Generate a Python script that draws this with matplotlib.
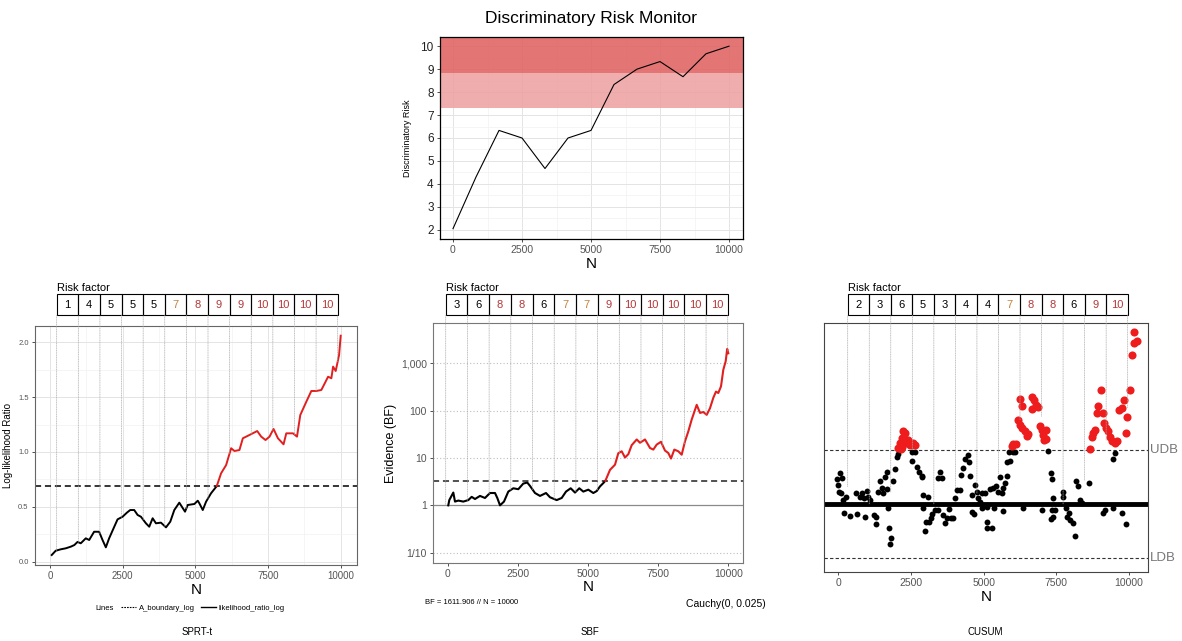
import numpy as np
import matplotlib.pyplot as plt
from matplotlib.patches import Rectangle, ConnectionPatch
from matplotlib.lines import Line2D
from matplotlib.transforms import blended_transform_factory

plt.rcParams['font.family'] = ['Liberation Sans', 'DejaVu Sans']

W, H = 1182, 641

# --- discriminatory risk monitor (top) ---
monitor_n = [0, 833, 1667, 2500, 3333, 4167, 5000, 5833, 6667, 7500, 8333, 9167, 10000]
monitor_risk = [2.05, 4.3, 6.33, 6.0, 4.67, 6.0, 6.33, 8.33, 9.0, 9.33, 8.67, 9.67, 10.0]
band_high = (8.85, 10.4)
band_mid = (7.3, 8.85)

# --- SPRT-t ---
sprt_n = [59, 196, 369, 541, 714, 838, 945, 1059, 1231, 1348, 1517, 1690, 1807, 1921,
          2034, 2186, 2324, 2497, 2645, 2759, 2897, 3014, 3128, 3300, 3414, 3531, 3645,
          3817, 3990, 4138, 4276, 4448, 4645, 4738, 4966, 5083, 5138, 5255, 5369, 5541,
          5738, 5886, 6059, 6231, 6345, 6517, 6634, 6862, 7128, 7266, 7414, 7552, 7690,
          7841, 8034, 8128, 8359, 8497, 8610, 8817, 8990, 9162, 9334, 9452, 9566, 9679,
          9738, 9828, 9945, 10000]
sprt_llr = [0.061, 0.10, 0.113, 0.122, 0.137, 0.152, 0.18, 0.168, 0.213, 0.198, 0.273,
            0.273, 0.198, 0.131, 0.213, 0.304, 0.386, 0.41, 0.447, 0.471, 0.471, 0.426,
            0.41, 0.35, 0.319, 0.396, 0.35, 0.356, 0.313, 0.365, 0.471, 0.538, 0.456,
            0.517, 0.526, 0.556, 0.532, 0.471, 0.547, 0.624, 0.69, 0.806, 0.881, 1.034,
            1.009, 1.018, 1.125, 1.155, 1.191, 1.14, 1.109, 1.14, 1.21, 1.125, 1.07, 1.17,
            1.17, 1.14, 1.337, 1.458, 1.556, 1.556, 1.565, 1.626, 1.686, 1.672, 1.778,
            1.738, 1.884, 2.06]
sprt_boundary = 0.69
sprt_risk = [1, 4, 5, 5, 5, 7, 8, 9, 9, 10, 10, 10, 10]

# --- SBF ---
sbf_n = [21, 57, 200, 260, 378, 556, 734, 855, 973, 1151, 1329, 1507, 1686, 1768, 1864,
         2006, 2160, 2338, 2516, 2694, 2837, 2933, 3111, 3290, 3503, 3646, 3884, 4063,
         4216, 4383, 4537, 4690, 4833, 5011, 5189, 5310, 5428, 5546, 5620, 5784, 5962,
         6080, 6201, 6319, 6437, 6557, 6736, 6853, 7032, 7210, 7328, 7447, 7601, 7744,
         7862, 7958, 8076, 8218, 8339, 8457, 8575, 8696, 8874, 8992, 9109, 9230, 9348,
         9466, 9561, 9643, 9740, 9822, 9907, 9960, 10000]
sbf_bf = [1.0, 1.29, 1.86, 1.20, 1.26, 1.20, 1.29, 1.51, 1.36, 1.58, 1.43, 1.82, 1.82,
          1.43, 1.0, 1.20, 1.95, 2.29, 2.19, 2.88, 3.02, 2.57, 1.82, 1.58, 1.82, 1.48,
          1.29, 1.43, 1.95, 2.29, 1.86, 2.29, 1.95, 2.14, 1.82, 2.0, 2.51, 2.95, 3.3, 5.6,
          7.2, 12.6, 13.8, 10.2, 12.0, 18.6, 24.5, 20.9, 24.5, 16.2, 15.0, 19.1, 21.9,
          14.3, 12.7, 9.7, 15.0, 13.8, 11.7, 22.4, 36.3, 64.6, 132, 89, 93, 81, 112, 186,
          251, 234, 324, 724, 1096, 1995, 1611.906]
sbf_boundary = 3.3
sbf_risk = [3, 6, 8, 8, 6, 7, 7, 9, 10, 10, 10, 10, 10]

# --- CUSUM ---
cusum_n = [-56, 1, 58, 139, 24, 93, 173, 253, 207, 402, 597, 655, 746, 804, 896, 918, 976,
           1010, 1090, 1240, 1285, 1285, 1377, 1435, 1492, 1549, 1606, 1664, 1664, 1698,
           1744, 1813, 1790, 1893, 1950, 2008, 2065, 2524, 2547, 2638, 2696, 2776, 2868,
           2891, 2925, 2925, 2982, 3006, 3074, 3120, 3189, 3235, 3326, 3418, 3498, 3556,
           3441, 3613, 3670, 3728, 3808, 3877, 3934, 4014, 4072, 4186, 4221, 4301, 4358,
           4450, 4496, 4542, 4588, 4611, 4668, 4702, 4760, 4817, 4874, 4932, 4933, 5046,
           5105, 5127, 5127, 5276, 5218, 5333, 5425, 5356, 5505, 5563, 5620, 5654, 5677,
           5734, 5792, 5815, 5906, 5883, 5998, 6078, 6365, 6996, 7225, 7305, 7340, 7374,
           7340, 7454, 7305, 7397, 7718, 7741, 7833, 7879, 7947, 7970, 8062, 8142, 8177,
           8257, 8314, 8372, 8635, 9117, 9174, 9518, 9461, 9438, 9748, 9897,
           2065, 2157, 2122, 2180, 2200, 2237, 2270, 2294, 2352, 2409, 2466, 2581, 2638,
           5964, 6021, 6113, 6193, 6250, 6308, 6422, 6503, 6537, 6250, 6308, 6652, 6732,
           6652, 6801, 6881, 6938, 6996, 7053, 7145, 7076, 7145, 8658, 8716, 8773, 8830,
           8888, 8945, 9026, 9094, 9140, 9209, 9289, 9346, 9404, 9518, 9576, 9667, 9748,
           9828, 9885, 9920, 10034, 10092, 10172, 10172, 10264]
cusum_stat = [2.31, 1.70, 2.84, 2.38, 1.14, 0.99, 0.37, 0.68, -0.86, -1.08, 1.05, -0.96,
              0.59, 0.99, 0.52, -1.17, 1.20, 0.59, 0.37, -1.02, -1.17, -1.85, 1.14, 2.07,
              1.45, 0.99, 2.44, 1.36, 2.99, -0.34, -2.25, -3.12, -3.73, 2.07, 3.24, 4.29,
              4.60, 3.92, 4.79, 4.84, 3.45, 2.99, 2.53, 2.62, 0.83, -0.40, -2.47, -1.64,
              0.68, -1.64, -1.27, -0.96, -0.56, 2.38, 2.99, 2.38, -0.56, -1.02, -1.79,
              -1.27, -0.49, -1.27, -1.27, 0.52, 1.30, 1.30, 2.69, 3.30, 4.17, 4.48, 3.86,
              2.62, 0.83, -0.71, -0.96, 1.76, 1.14, 0.52, 0.21, -0.40, 0.99, 0.99, -0.25,
              -1.64, -2.25, -2.25, 1.36, 1.45, 1.67, -0.40, 1.14, 2.53, 1.05, -0.62, 1.45,
              1.92, 2.59, 3.83, 3.93, 4.84, 4.84, 4.84, -0.40, -0.56, 4.90, 2.90, 2.28,
              0.53, -0.56, -0.56, -1.42, -1.17, 1.14, 0.68, -0.40, -1.17, -0.86, -1.48,
              -1.79, -2.96, 2.07, 1.67, 0.37, 0.12, 1.97, -0.86, -0.56, 4.75, 4.14, -0.40,
              -0.80, -1.85,
              5.16, 5.09, 5.62, 6.08, 5.30, 6.76, 5.90, 6.54, 5.62, 5.93, 5.46, 5.62, 5.40,
              5.37, 5.56, 5.56, 7.78, 7.31, 7.01, 6.70, 6.30, 6.47, 9.69, 9.07, 9.88, 9.63,
              8.77, 9.17, 8.95, 7.16, 6.85, 6.39, 6.85, 5.93, 5.99, 5.06, 6.23, 6.54, 6.85,
              8.45, 9.07, 10.49, 8.40, 7.47, 7.01, 6.70, 6.23, 5.77, 5.62, 5.86, 8.70, 8.86,
              9.57, 6.54, 8.08, 10.56, 13.80, 14.88, 15.86, 15.03]
cusum_udb = 5.0
cusum_ldb = -5.0
cusum_risk = [2, 3, 6, 5, 3, 4, 4, 7, 8, 8, 6, 9, 10]
cusum_line_end = [1.6, 0, 1.1, 5.0, 0, 1.5, 1.0, 2.8, 7.8, 8.1, 0, 2.2, 5.9, 8.9]

N_TICKS = [0, 2500, 5000, 7500, 10000]
RED = '#e21f1f'


def px_axes(fig, left, top, right, bottom):
    return fig.add_axes([left / W, 1 - bottom / H, (right - left) / W, (bottom - top) / H])


def risk_color(f):
    if f <= 6:
        return 'black'
    if f == 7:
        return '#c7823f'
    return '#b53838'


def style_ticks(ax, size):
    ax.tick_params(which='major', length=2.5, width=0.6, color='#333333', pad=2,
                   labelsize=size, labelcolor='#555555')
    ax.tick_params(which='minor', length=0)


def draw_risk_row(fig, ax, factors, start, end, line_ends):
    pos = ax.get_position()
    bx = fig.add_axes([pos.x0, 1 - 315 / H, pos.width, 20.7 / H])
    bx.set_xlim(ax.get_xlim())
    bx.set_ylim(0, 1)
    bx.axis('off')
    edges = np.linspace(start, end, len(factors) + 1)
    for i, f in enumerate(factors):
        bx.add_patch(Rectangle((edges[i], 0), edges[i + 1] - edges[i], 1, fill=False,
                               ec='black', lw=0.8, clip_on=False))
        bx.text((edges[i] + edges[i + 1]) / 2, 0.5, str(f), ha='center', va='center',
                fontsize=8, color=risk_color(f))
    bx.text(edges[0], 1.08, 'Risk factor', ha='left', va='bottom', fontsize=8)
    for e, yv in zip(edges, line_ends):
        con = ConnectionPatch(xyA=(e, yv), coordsA=ax.transData, xyB=(e, 0),
                              coordsB=bx.transData, color='#a8a8a8', lw=0.5,
                              ls=(0, (1, 1.5)))
        fig.add_artist(con)
    return edges


def split_at(xs, ys, level):
    k = next(i for i, v in enumerate(ys) if v >= level)
    return k


fig = plt.figure(figsize=(W / 100, H / 100), dpi=100)

# top: risk monitor
ax0 = px_axes(fig, 440, 37, 743, 239)
ax0.set_axisbelow(True)
ax0.axhspan(*band_mid, color='#ee9f9f', alpha=0.85, lw=0, zorder=1)
ax0.axhspan(*band_high, color='#e06666', alpha=0.9, lw=0, zorder=1)
ax0.plot(monitor_n, monitor_risk, color='black', lw=0.8, zorder=3)
ax0.set_xlim(-471, 10507)
ax0.set_ylim(1.6, 10.4)
ax0.set_xticks(N_TICKS)
ax0.set_xticks([1250, 3750, 6250, 8750], minor=True)
ax0.set_yticks(range(2, 11))
ax0.set_yticks(np.arange(2.5, 10, 1), minor=True)
ax0.grid(which='major', color='#e4e4e4', lw=0.7)
ax0.grid(which='minor', color='#f1f1f1', lw=0.5)
style_ticks(ax0, 7.5)
ax0.tick_params(axis='y', labelsize=8.5, labelcolor='#222222')
for s in ax0.spines.values():
    s.set_color('black')
    s.set_linewidth(0.9)
ax0.set_xlabel('N', fontsize=11, labelpad=1)
ax0.set_ylabel('Discriminatory Risk', fontsize=6.5, labelpad=6)
fig.text(591 / W, 1 - 18 / H, 'Discriminatory Risk Monitor', ha='center', va='center',
         fontsize=12.5)

# SPRT-t
ax1 = px_axes(fig, 35, 325.7, 357, 565)
ax1.set_axisbelow(True)
ax1.set_xlim(-516, 10561)
ax1.set_ylim(-0.03, 2.151)
ax1.set_xticks(N_TICKS)
ax1.set_xticks([1250, 3750, 6250, 8750], minor=True)
ax1.set_yticks([0, 0.5, 1.0, 1.5, 2.0])
ax1.set_yticks([0.25, 0.75, 1.25, 1.75], minor=True)
ax1.set_yticklabels(['0.0', '0.5', '1.0', '1.5', '2.0'])
ax1.grid(which='major', color='#e4e4e4', lw=0.7)
ax1.grid(which='minor', color='#f1f1f1', lw=0.5)
style_ticks(ax1, 7)
ax1.tick_params(axis='y', labelsize=5.5)
for s in ax1.spines.values():
    s.set_color('#666666')
    s.set_linewidth(0.8)
ax1.axhline(sprt_boundary, color='black', lw=1.1, ls=(0, (4, 2.5)), zorder=2)
k = split_at(sprt_n, sprt_llr, sprt_boundary)
ax1.plot(sprt_n[:k + 1], sprt_llr[:k + 1], color='black', lw=1.4, zorder=3)
ax1.plot(sprt_n[k:], sprt_llr[k:], color=RED, lw=1.4, zorder=3)
ax1.set_xlabel('N', fontsize=11, labelpad=1)
ax1.set_ylabel('Log-likelihood Ratio', fontsize=7, labelpad=4)
edges = np.linspace(230, 9897, len(sprt_risk) + 1)
draw_risk_row(fig, ax1, sprt_risk, 230, 9897, np.interp(edges, sprt_n, sprt_llr))

fig.text(95 / W, 1 - 608 / H, 'Lines', ha='left', va='center', fontsize=5.5)
fig.legend(handles=[Line2D([], [], color='black', lw=0.8, ls=(0, (1.5, 1))),
                    Line2D([], [], color='black', lw=1.0)],
           labels=['A_boundary_log', 'likelihood_ratio_log'], ncol=2,
           loc='center left', bbox_to_anchor=(121 / W, 1 - 608 / H), frameon=False,
           fontsize=5.5, handlelength=2.0, handletextpad=0.3, columnspacing=0.8,
           borderpad=0, borderaxespad=0)
fig.text(197 / W, 1 - 632 / H, 'SPRT-t', ha='center', va='center', fontsize=7)

# SBF
ax2 = px_axes(fig, 433.3, 323.3, 742.7, 562.7)
ax2.set_yscale('log')
ax2.set_xlim(-513, 10513)
ax2.set_ylim(10 ** -1.21, 10 ** 3.84)
ax2.set_xticks(N_TICKS)
ax2.set_yticks([0.1, 1, 10, 100, 1000])
ax2.set_yticklabels(['1/10', '1', '10', '100', '1,000'])
ax2.minorticks_off()
style_ticks(ax2, 7.5)
ax2.tick_params(axis='y', labelsize=7.5)
for s in ax2.spines.values():
    s.set_color('#777777')
    s.set_linewidth(0.8)
for v in [0.1, 10, 100, 1000]:
    ax2.axhline(v, color='#bdbdbd', lw=0.8, ls=(0, (1, 2)), zorder=1)
ax2.axhline(1, color='#8a8a8a', lw=0.9, zorder=1)
ax2.axhline(sbf_boundary, color='#222222', lw=1.1, ls=(0, (4, 2.5)), zorder=2)
k = split_at(sbf_n, sbf_bf, sbf_boundary)
ax2.plot(sbf_n[:k + 1], sbf_bf[:k + 1], color='black', lw=1.5, zorder=3)
ax2.plot(sbf_n[k:], sbf_bf[k:], color=RED, lw=1.5, zorder=3)
ax2.set_xlabel('N', fontsize=11, labelpad=1)
ax2.set_ylabel('Evidence (BF)', fontsize=9, labelpad=3)
edges = np.linspace(-70, 9980, len(sbf_risk) + 1)
draw_risk_row(fig, ax2, sbf_risk, -70, 9980,
              10 ** np.interp(edges, sbf_n, np.log10(sbf_bf)))
fig.text(425 / W, 1 - 603 / H, f'BF = {sbf_bf[-1]:.3f} // N = {sbf_n[-1]}', ha='left',
         va='center', fontsize=5.5)
fig.text(766 / W, 1 - 604 / H, 'Cauchy(0, 0.025)', ha='right', va='center', fontsize=7.5)
fig.text(590 / W, 1 - 632 / H, 'SBF', ha='center', va='center', fontsize=7)

# CUSUM
ax3 = px_axes(fig, 824.3, 323.3, 1148.3, 572)
ax3.set_xlim(-482, 10664)
ax3.set_ylim(-6.3, 16.7)
ax3.set_xticks(N_TICKS)
ax3.set_yticks([])
style_ticks(ax3, 7.5)
for s in ax3.spines.values():
    s.set_color('#444444')
    s.set_linewidth(0.8)
ax3.axhline(0, color='black', lw=3.5, zorder=2)
ax3.axhline(cusum_udb, color='#333333', lw=0.8, ls=(0, (3, 2)), zorder=1)
ax3.axhline(cusum_ldb, color='#333333', lw=0.8, ls=(0, (3, 2)), zorder=1)
cn = np.array(cusum_n)
cs = np.array(cusum_stat)
over = cs > cusum_udb
ax3.scatter(cn[~over], cs[~over], s=18, color='black', lw=0, zorder=3)
ax3.scatter(cn[over], cs[over], s=34, color='#ee1c1c', lw=0, zorder=4)
trans = blended_transform_factory(ax3.transAxes, ax3.transData)
ax3.text(1.005, cusum_udb, 'UDB', transform=trans, ha='left', va='center', fontsize=9.5,
         color='#777777')
ax3.text(1.005, cusum_ldb, 'LDB', transform=trans, ha='left', va='center', fontsize=9.5,
         color='#777777')
ax3.set_xlabel('N', fontsize=11, labelpad=1)
draw_risk_row(fig, ax3, cusum_risk, 323, 9955, cusum_line_end)
fig.text(985 / W, 1 - 632 / H, 'CUSUM', ha='center', va='center', fontsize=7)

fig.savefig('out.png', dpi=100)
